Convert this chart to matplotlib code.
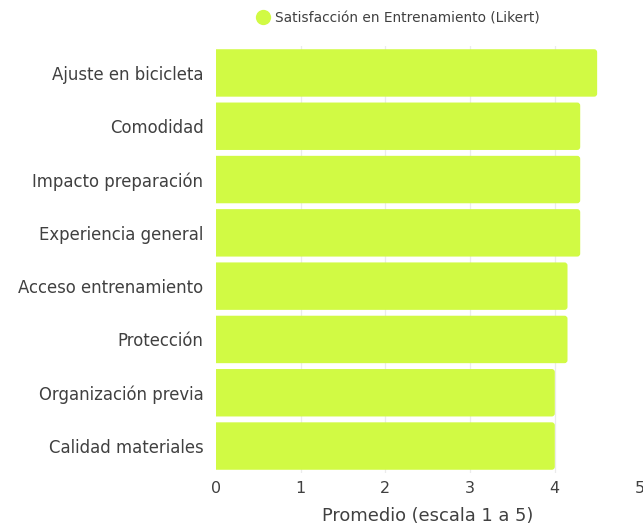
import matplotlib.pyplot as plt
from matplotlib.patches import FancyBboxPatch
from matplotlib.lines import Line2D

categorias = ['Ajuste en bicicleta', 'Comodidad', 'Impacto preparación',
              'Experiencia general', 'Acceso entrenamiento', 'Protección',
              'Organización previa', 'Calidad materiales']
promedios = [4.5, 4.3, 4.3, 4.3, 4.15, 4.15, 4.0, 4.0]
serie = 'Satisfacción en Entrenamiento (Likert)'
xticks = [0, 1, 2, 3, 4, 5]

verde = '#d1fa44'
gris = '#404040'

plt.rcParams['font.family'] = ['DejaVu Sans']

fig = plt.figure(figsize=(6.43, 5.31), dpi=100)
ax = fig.add_axes([216/643, 1 - 472.7/531, 423.5/643, 426.4/531])

pos = list(range(len(categorias)))
bars = ax.barh(pos, promedios, height=0.89, color=verde)

# swap plain rectangles for ones with rounded right corners
px_x = 423.5 / 5
px_y = 426.4 / 8
for b in bars:
    x, y = b.get_x(), b.get_y()
    w, h = b.get_width(), b.get_height()
    r = 3 / px_x
    p = FancyBboxPatch((x - 0.1, y), w + 0.1, h,
                       boxstyle=f'round,pad=0,rounding_size={r}',
                       mutation_aspect=px_x / px_y,
                       facecolor=verde, edgecolor='none', zorder=2)
    b.remove()
    ax.add_patch(p)

ax.set_xlim(0, 5)
ax.set_ylim(len(categorias) - 0.5, -0.5)
ax.set_yticks(pos)
ax.set_yticklabels(categorias, fontsize=11.9, color=gris)
ax.set_xticks(xticks)
ax.set_xticklabels([str(t) for t in xticks], fontsize=11.5, color=gris)
ax.tick_params(length=0, pad=9)
ax.tick_params(axis='x', pad=6)

ax.grid(axis='x', color='#ebebeb', linewidth=0.9)
ax.xaxis.get_gridlines()[0].set_visible(False)
ax.set_axisbelow(True)
for s in ax.spines.values():
    s.set_visible(False)

ax.set_xlabel('Promedio (escala 1 a 5)', fontsize=12.9, color=gris, labelpad=8)

handle = Line2D([], [], marker='o', linestyle='none', markersize=11,
                markerfacecolor=verde, markeredgecolor='none')
fig.legend(handles=[handle], labels=[serie], loc='center',
           bbox_to_anchor=(397/643, 1 - 18/531), frameon=False,
           fontsize=9.9, handletextpad=0.3, labelcolor=gris,
           handlelength=1.2)

fig.savefig('out.png', dpi=100)
